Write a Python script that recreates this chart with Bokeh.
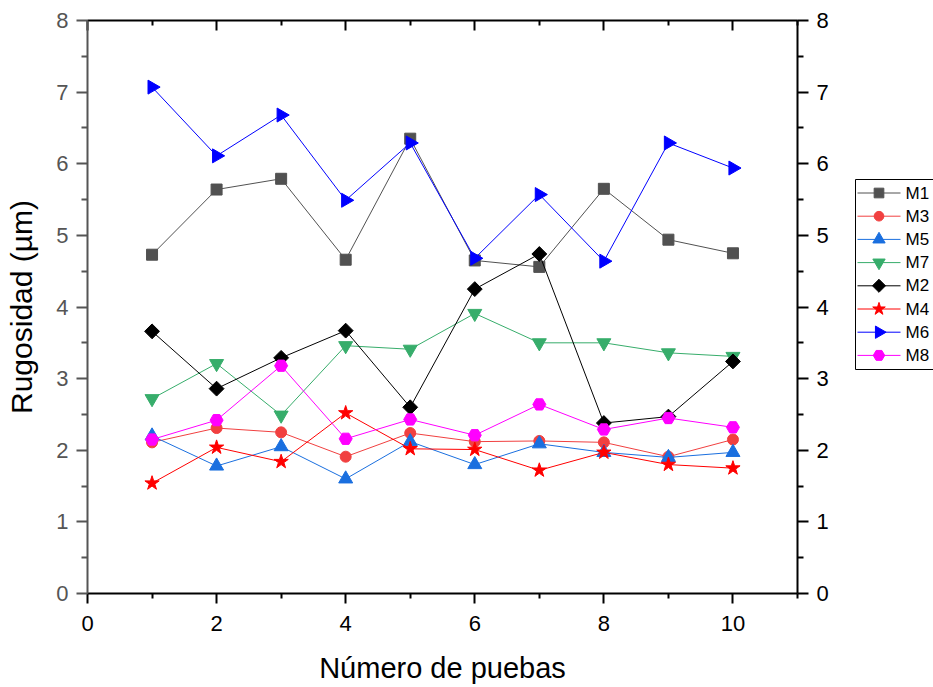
import numpy as np
from bokeh.plotting import figure
from bokeh.layouts import row
from bokeh.models import (LinearAxis, FixedTicker, Range1d, CustomJSTickFormatter,
                          ColumnDataSource)
from bokeh.core.properties import value
from bokeh.embed import file_html
from bokeh.resources import INLINE

# ---- data ----
pruebas = [1, 2, 3, 4, 5, 6, 7, 8, 9, 10]
m1 = [4.73, 5.64, 5.79, 4.66, 6.35, 4.65, 4.56, 5.65, 4.94, 4.75]
m3 = [2.11, 2.31, 2.25, 1.91, 2.24, 2.12, 2.13, 2.11, 1.91, 2.15]
m5 = [2.20, 1.78, 2.05, 1.60, 2.12, 1.80, 2.09, 1.97, 1.90, 1.97]
m7 = [2.72, 3.21, 2.49, 3.46, 3.41, 3.91, 3.50, 3.50, 3.36, 3.31]
m2 = [3.66, 2.86, 3.29, 3.67, 2.60, 4.25, 4.74, 2.38, 2.47, 3.24]
m4 = [1.54, 2.04, 1.84, 2.52, 2.02, 2.01, 1.72, 1.97, 1.80, 1.75]
m6 = [7.07, 6.11, 6.68, 5.49, 6.29, 4.68, 5.57, 4.64, 6.29, 5.94]
m8 = [2.15, 2.42, 3.18, 2.16, 2.43, 2.21, 2.64, 2.29, 2.45, 2.32]
series_names = ["M1", "M3", "M5", "M7", "M2", "M4", "M6", "M8"]
series_values = [m1, m3, m5, m7, m2, m4, m6, m8]
x_ticks = [0, 2, 4, 6, 8, 10]
y_ticks = [0, 1, 2, 3, 4, 5, 6, 7, 8]

# ---- styles ----
styles = {
    "M1": dict(color="#515151", marker="square", size=11, angle=0.0),
    "M3": dict(color="#F14040", marker="circle", size=11, angle=0.0),
    "M5": dict(color="#1A6FDF", marker="triangle", size=14, angle=0.0),
    "M7": dict(color="#37AD6B", marker="inverted_triangle", size=14, angle=0.0),
    "M2": dict(color="#000000", marker="square", size=10.5, angle=np.pi / 4),
    "M4": dict(color="#FF0000", marker="star", size=15, angle=0.0),
    "M6": dict(color="#0000FF", marker="triangle", size=14, angle=-np.pi / 2),
    "M8": dict(color="#FF00FF", marker="hex", size=13, angle=0.0),
}

FONT = "Liberation Sans"
FRAME_TOP, FRAME_BOTTOM = 20, 593

# ================= main plot =================
p = figure(width=840, height=687, output_backend="svg", toolbar_location=None,
           x_range=Range1d(0, 11), y_range=Range1d(0, 8),
           x_axis_location=None, y_axis_location=None,
           min_border_left=87, min_border_right=43,
           min_border_top=FRAME_TOP, min_border_bottom=687 - FRAME_BOTTOM)
p.outline_line_color = None
p.xgrid.visible = False
p.ygrid.visible = False
p.background_fill_color = "white"
p.border_fill_color = "white"

xt = FixedTicker(ticks=x_ticks, minor_ticks=[1, 3, 5, 7, 9, 11])
yt = FixedTicker(ticks=y_ticks, minor_ticks=[0.5 + i for i in range(8)])


def style_axis(ax, color="black", label_color="black"):
    ax.axis_line_width = 2
    ax.axis_line_color = color
    ax.major_tick_line_width = 2
    ax.minor_tick_line_width = 2
    ax.major_tick_line_color = color
    ax.minor_tick_line_color = color
    ax.major_tick_out = 10
    ax.major_tick_in = 0
    ax.minor_tick_out = 5
    ax.minor_tick_in = 0
    ax.major_label_text_font = FONT
    ax.major_label_text_font_size = "22px"
    ax.major_label_text_color = label_color
    ax.axis_label_text_font = FONT
    ax.axis_label_text_font_style = "normal"
    ax.axis_label_text_color = "black"


bottom = LinearAxis(ticker=xt, axis_label="Número de puebas")
style_axis(bottom)
bottom.axis_label_text_font_size = "29px"
bottom.major_label_standoff = 12
bottom.axis_label_standoff = 18
p.add_layout(bottom, "below")

left = LinearAxis(ticker=yt, axis_label="Rugosidad (µm)")
style_axis(left, color="#555555", label_color="#555555")
left.major_tick_out = 11
left.minor_tick_out = 6
left.axis_label_text_font_size = "30px"
left.major_label_standoff = 8
left.axis_label_standoff = 15
p.add_layout(left, "left")

right = LinearAxis(ticker=yt)
style_axis(right)
right.major_tick_out = 11
right.minor_tick_out = 6
right.major_label_standoff = 8
p.add_layout(right, "right")

top = LinearAxis(ticker=xt, formatter=CustomJSTickFormatter(code="return ''"))
style_axis(top)
top.major_tick_out = 0
top.major_tick_in = 10
top.minor_tick_out = 0
top.minor_tick_in = 5
top.major_label_standoff = 0
p.add_layout(top, "above")

for name, vals in zip(series_names, series_values):
    st = styles[name]
    p.line(pruebas, vals, line_color=st["color"], line_width=1)
    p.scatter(pruebas, vals, marker=st["marker"], size=st["size"],
              angle=st["angle"], fill_color=st["color"],
              line_color=st["color"], line_width=1)

# ================= legend panel (page pixel coordinates) =================
LW = 93
lg = figure(width=LW, height=687, output_backend="svg", toolbar_location=None,
            x_range=Range1d(0, LW), y_range=Range1d(FRAME_BOTTOM, FRAME_TOP),
            x_axis_location=None, y_axis_location=None,
            min_border=0, min_border_top=FRAME_TOP,
            min_border_bottom=687 - FRAME_BOTTOM)
lg.outline_line_color = None
lg.xgrid.visible = False
lg.ygrid.visible = False
lg.background_fill_color = "white"
lg.border_fill_color = "white"

box_left, box_top, box_bottom = 15, 179, 369
row_h = 23.2
rows_y = [box_top + 13.5 + row_h * i for i in range(len(series_names))]
lg.quad(left=box_left, right=LW + 5, top=box_top, bottom=box_bottom,
        fill_color="white", line_color="black", line_width=1)
leg_src = ColumnDataSource(dict(
    y=rows_y,
    x0=[box_left + 2] * len(series_names),
    x1=[box_left + 45] * len(series_names),
    xm=[box_left + 23.5] * len(series_names),
    xt=[box_left + 50] * len(series_names),
    color=[styles[n]["color"] for n in series_names],
    marker=[styles[n]["marker"] for n in series_names],
    size=[styles[n]["size"] * 0.88 for n in series_names],
    angle=[styles[n]["angle"] for n in series_names],
    label=series_names,
))
lg.segment(x0="x0", x1="x1", y0="y", y1="y", line_color="color",
           line_width=1, source=leg_src)
lg.scatter(x="xm", y="y", marker="marker", size="size", angle="angle",
           fill_color="color", line_color="color", source=leg_src)
lg.text(x="xt", y="y", text="label", text_baseline="middle",
        text_font=value(FONT), text_font_size="17px", text_color="black",
        source=leg_src)

layout = row(p, lg, spacing=0)
open("out.html", "w").write(file_html(layout, INLINE))
